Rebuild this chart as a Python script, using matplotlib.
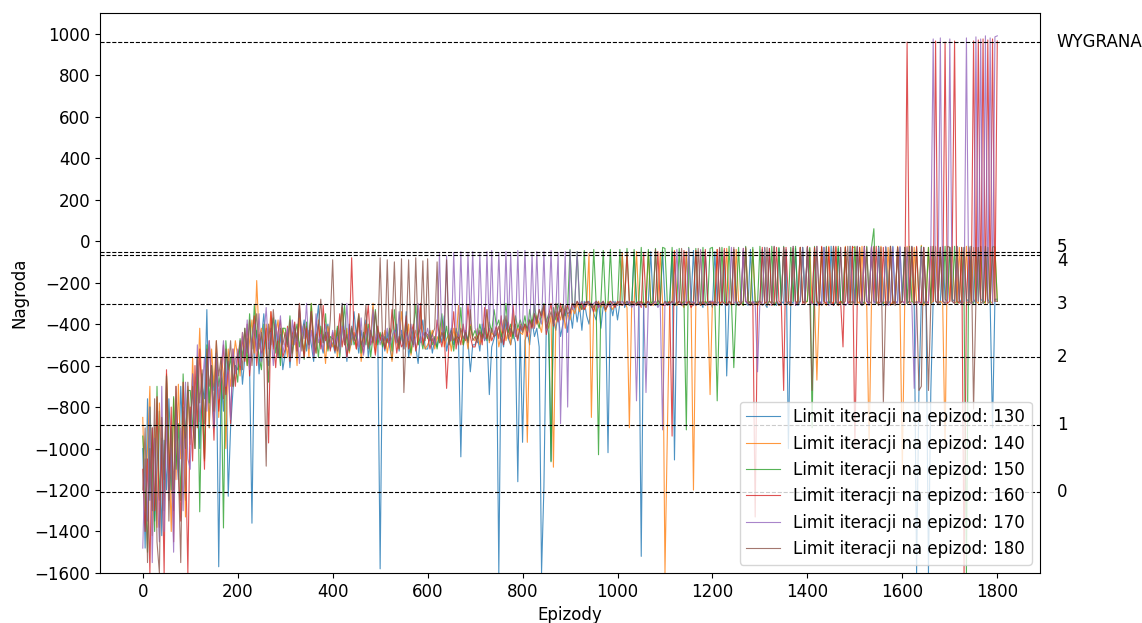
import numpy as np
import matplotlib
matplotlib.use("Agg")
import matplotlib.pyplot as plt

# reward per episode, every 5 episodes (0 .. 1800)
reward_130 = [
    -1000, -1480, -760, -1250, -900, -1350, -1100, -820, -1420, -960, -1200, -760, -1050, -1300, -880, -1150, -700, -980, -1250, -720,
    -950, -640, -830, -560, -1000, -700, -760, -330, -900, -600, -720, -560, -1570, -660, -820, -540, -1230, -900, -720, -600,
    -620, -500, -690, -560, -470, -600, -1360, -520, -430, -640, -470, -350, -540, -600, -420, -510, -380, -560, -450, -620,
    -540, -440, -610, -470, -400, -560, -330, -450, -380, -530, -430, -500, -580, -420, -310, -490, -540, -450, -400, -520,
    -490, -540, -420, -510, -300, -450, -580, -400, -500, -340, -460, -540, -430, -510, -380, -560, -470, -320, -500, -440,
    -1580, -470, -530, -440, -510, -570, -460, -400, -530, -430, -500, -340, -560, -480, -420, -510, -590, -450, -380, -520,
    -520, -450, -540, -470, -510, -440, -490, -360, -530, -470, -420, -500, -450, -470, -1040, -510, -430, -480, -630, -500,
    -500, -460, -530, -400, -480, -450, -740, -510, -470, -430, -1600, -450, -510, -380, -470, -500, -440, -490, -1160, -420,
    -970, -480, -440, -500, -380, -460, -420, -510, -1600, -1185, -400, -450, -1060, -380, -430, -350, -460, -400, -330, -440,
    -330, -420, -300, -390, -310, -430, -290, -360, -400, -300, -350, -380, -290, -420, -310, -340, -1020, -300, -360, -290,
    -380, -300, -60, -320, -290, -310, -300, -55, -310, -290, -1520, -300, -320, -290, -50, -300, -310, -285, -300, -45,
    -300, -290, -310, -50, -1055, -300, -290, -300, -310, -60, -300, -290, -45, -310, -300, -290, -320, -50, -300, -290,
    -320, -50, -290, -300, -310, -45, -650, -290, -300, -40, -310, -290, -300, -45, -290, -310, -40, -300, -290, -300,
    -290, -40, -300, -320, -35, -290, -300, -310, -35, -290, -300, -40, -1000, -290, -300, -35, -310, -290, -30, -300,
    -30, -300, -290, -35, -310, -290, -300, -30, -290, -300, -25, -310, -290, -35, -300, -290, -30, -300, -290, -25,
    -300, -30, -290, -310, -25, -290, -300, -30, -290, -300, -25, -290, -310, -30, -300, -290, -25, -300, -290, -30,
    -290, -30, -300, -290, -25, -300, -1600, -710, -290, -30, -300, -1600, -720, -280, -30, -290, -300, -25, -280, -290,
    -30, -280, -290, -25, -280, -300, -30, -280, -290, -25, -280, -300, -30, -280, -290, -25, -280, -300, -900, -280,
    -280,
]
reward_140 = [
    -850, -1300, -1000, -700, -1420, -900, -1380, -780, -1100, -1250, -640, -980, -1400, -760, -1150, -690, -1050, -820, -1330, -700,
    -980, -560, -880, -720, -420, -760, -1060, -620, -900, -520, -700, -480, -850, -560, -640, -1000, -520, -700, -600, -480,
    -560, -650, -440, -520, -600, -480, -380, -540, -190, -460, -420, -560, -400, -480, -340, -520, -450, -380, -560, -420,
    -470, -560, -390, -500, -440, -600, -370, -480, -520, -410, -560, -300, -470, -540, -380, -500, -450, -590, -410, -480,
    -510, -430, -560, -460, -320, -500, -420, -540, -480, -440, -520, -350, -580, -470, -400, -510, -460, -300, -540, -430,
    -460, -500, -430, -540, -470, -580, -440, -490, -520, -340, -460, -510, -400, -550, -470, -430, -500, -320, -480, -520,
    -500, -470, -430, -520, -460, -490, -380, -510, -470, -450, -530, -420, -490, -310, -460, -500, -440, -520, -400, -470,
    -480, -420, -500, -450, -470, -330, -490, -440, -460, -410, -510, -450, -380, -480, -430, -500, -350, -460, -420, -440,
    -450, -400, -970, -430, -380, -420, -360, -400, -440, -330, -390, -420, -360, -1090, -400, -340, -380, -310, -420, -350,
    -380, -320, -350, -300, -340, -290, -330, -310, -60, -850, -310, -340, -290, -320, -300, -340, -290, -310, -330, -300,
    -300, -310, -55, -290, -320, -900, -290, -300, -50, -310, -290, -300, -320, -50, -290, -310, -300, -290, -55, -300,
    -1600, -925, -300, -290, -45, -310, -290, -300, -320, -50, -290, -300, -1200, -310, -290, -45, -300, -290, -310, -740,
    -290, -300, -40, -310, -290, -300, -35, -290, -310, -300, -40, -290, -300, -310, -35, -290, -300, -40, -290, -310,
    -300, -290, -35, -310, -290, -300, -30, -290, -310, -300, -30, -290, -300, -310, -35, -290, -300, -30, -290, -300,
    -290, -35, -300, -290, -670, -300, -30, -290, -310, -25, -290, -300, -30, -310, -290, -300, -25, -290, -300, -30,
    -30, -290, -300, -25, -290, -310, -1000, -290, -30, -300, -290, -25, -300, -290, -30, -310, -290, -300, -25, -290,
    -1100, -290, -25, -300, -290, -30, -300, -290, -20, -310, -290, -30, -300, -290, -25, -300, -290, -300, -1000, -30,
    -290, -25, -300, -290, -30, -290, -300, -25, -290, -300, -30, -290, -300, -25, -290, -300, -30, -290, -300, -25,
    -290,
]
reward_150 = [
    -940, -1200, -1500, -800, -1100, -1400, -700, -1250, -950, -1300, -650, -1000, -1200, -750, -1100, -880, -1250, -640, -950, -720,
    -720, -880, -1000, -560, -1305, -640, -1050, -500, -780, -600, -900, -540, -700, -620, -1383, -480, -640, -560, -700, -600,
    -680, -470, -560, -420, -600, -350, -520, -310, -460, -560, -620, -400, -500, -680, -440, -370, -540, -460, -600, -420,
    -420, -500, -360, -540, -460, -400, -510, -440, -570, -390, -480, -300, -520, -450, -560, -410, -490, -350, -530, -460,
    -470, -520, -410, -560, -440, -310, -490, -530, -420, -500, -470, -360, -540, -440, -500, -400, -560, -460, -330, -500,
    -440, -510, -460, -490, -420, -530, -330, -470, -500, -450, -520, -390, -480, -540, -430, -310, -500, -460, -520, -440,
    -470, -430, -500, -460, -520, -440, -350, -480, -410, -500, -450, -530, -420, -470, -320, -500, -440, -480, -410, -460,
    -430, -470, -400, -460, -420, -480, -390, -440, -330, -410, -380, -460, -420, -300, -440, -400, -470, -360, -420, -380,
    -420, -360, -440, -330, -400, -310, -380, -420, -340, -300, -390, -350, -1064, -320, -380, -300, -340, -310, -360, -320,
    -40, -300, -310, -50, -290, -330, -45, -300, -290, -320, -40, -300, -1030, -290, -45, -310, -300, -40, -290, -300,
    -310, -40, -290, -300, -35, -290, -310, -40, -300, -290, -30, -310, -290, -40, -300, -290, -35, -310, -290, -30,
    -35, -300, -290, -30, -310, -290, -35, -300, -290, -910, -30, -290, -300, -35, -290, -310, -30, -300, -290, -35,
    -30, -290, -770, -300, -30, -290, -300, -25, -290, -610, -300, -30, -290, -310, -25, -290, -300, -30, -290, -300,
    -25, -290, -30, -300, -290, -25, -310, -290, -30, -300, -25, -290, -300, -30, -290, -25, -300, -290, -30, -290,
    -290, -30, -900, -25, -290, -300, -30, -290, -25, -300, -290, -30, -300, -25, -290, -300, -30, -290, -25, -300,
    -25, -300, -30, -290, -300, -25, -290, -30, 60, -300, -25, -290, -300, -30, -290, -25, -300, -290, -30, -300,
    -290, -30, -300, -25, -290, -300, -30, -290, -25, -300, -290, -30, -300, -25, -290, -300, -30, -290, -25, -300,
    -30, -290, -25, -300, -290, -30, -300, -1600, -25, -290, -300, -30, -290, -25, -300, -290, -30, -300, -25, -30,
    -290,
]
reward_160 = [
    -1100, -1400, -1050, -1600, -900, -1300, -750, -1380, -980, -1600, -620, -1200, -800, -1450, -700, -1100, -1350, -680, -1000, -1600,
    -800, -1060, -600, -900, -520, -780, -1100, -620, -480, -700, -960, -560, -820, -650, -500, -740, -600, -880, -520, -700,
    -540, -620, -460, -580, -400, -650, -500, -360, -600, -450, -540, -520, -420, -973, -340, -490, -610, -440, -380, -560,
    -520, -410, -580, -450, -390, -530, -300, -470, -560, -420, -500, -340, -550, -460, -400, -520, -310, -480, -440, -530,
    -440, -530, -470, -350, -510, -430, -560, -480, -80, -450, -520, -380, -490, -540, -420, -310, -500, -460, -550, -410,
    -480, -440, -520, -470, -500, -330, -430, -540, -460, -510, -490, -360, -520, -450, -400, -530, -470, -300, -500, -440,
    -450, -520, -470, -500, -380, -460, -510, -440, -710, -490, -470, -340, -520, -450, -500, -400, -480, -310, -460, -510,
    -510, -460, -440, -500, -320, -470, -420, -480, -450, -410, -470, -360, -500, -430, -390, -460, -310, -440, -480, -400,
    -430, -400, -460, -380, -420, -350, -400, -330, -370, -310, -450, -360, -300, -410, -340, -390, -300, -370, -330, -310,
    -350, -300, -320, -290, -310, -300, -330, -290, -300, -310, -340, -290, -320, -300, -290, -330, -310, -290, -300, -320,
    -290, -300, -310, -290, -60, -300, -290, -310, -300, -290, -320, -55, -300, -290, -310, -300, -290, -50, -300, -310,
    -310, -300, -290, -940, -50, -300, -290, -310, -45, -300, -290, -320, -300, -45, -290, -310, -300, -40, -290, -300,
    -290, -310, -40, -300, -290, -35, -310, -290, -300, -40, -290, -310, -300, -35, -290, -300, -310, -290, -1330, -300,
    -290, -30, -300, -290, -35, -310, -300, -30, -290, -300, -720, -30, -290, -300, -35, -310, -290, -30, -300, -290,
    -25, -290, -300, -30, -290, -310, -25, -290, -300, -30, -290, -310, -25, -300, -290, -510, -30, -300, -290, -25,
    -1000, -290, -30, -300, -25, -290, -300, -30, -290, -25, -300, -290, -30, -310, -290, -25, -300, -290, -30, -300,
    -290, -300, 960, -290, -30, -300, -25, -290, -300, -30, -290, -300, -25, -290, 965, -300, -30, -290, 960, -300,
    -290, -30, 965, -290, -300, -30, -1600, -290, -30, -290, 965, -290, 970, -280, 975, -290, 970, -280, 975, -290,
    965,
]
reward_170 = [
    -1480, -1050, -1350, -800, -1550, -950, -1200, -1450, -700, -1400, -850, -1250, -1000, -1500, -760, -1150, -900, -1300, -680, -1050,
    -1100, -640, -950, -500, -870, -720, -560, -820, -480, -650, -900, -540, -760, -620, -480, -700, -580, -860, -520, -640,
    -520, -600, -440, -560, -380, -620, -470, -400, -530, -350, -580, -460, -320, -520, -440, -600, -400, -480, -360, -540,
    -480, -420, -550, -380, -500, -440, -590, -410, -470, -300, -520, -430, -560, -350, -490, -450, -530, -400, -470, -510,
    -430, -500, -460, -540, -410, -490, -300, -520, -440, -480, -430, -510, -370, -550, -460, -420, -500, -330, -480, -440,
    -500, -450, -480, -420, -510, -460, -430, -490, -340, -470, -520, -440, -480, -400, -510, -460, -300, -490, -440, -470,
    -420, -480, -450, -500, -430, -60, -460, -410, -70, -440, -480, -55, -430, -460, -50, -420, -470, -60, -400, -50,
    -420, -450, -60, -400, -480, -50, -430, -45, -460, -410, -55, -390, -440, -50, -420, -60, -400, -460, -45, -430,
    -410, -45, -380, -440, -60, -420, -50, -370, -400, -50, -430, -360, -45, -400, -340, -55, -880, -380, -50, -800,
    -45, -330, -300, -50, -310, -290, -320, -300, -290, -310, -300, -290, -320, -300, -290, -310, -300, -320, -290, -300,
    -310, -300, -290, -310, -300, -290, -320, -300, -770, -290, -310, -300, -730, -290, -310, -300, -290, -320, -300, -910,
    -290, -300, -310, -290, -300, -40, -290, -310, -300, -290, -35, -300, -290, -310, -300, -40, -290, -300, -310, -290,
    -290, -300, -310, -35, -290, -300, -310, -290, -30, -300, -290, -310, -300, -35, -290, -300, -310, -290, -300, -630,
    -290, -300, -30, -290, -310, -300, -25, -290, -300, -310, -30, -290, -300, -290, -25, -310, -300, -290, -30, -300,
    -30, -290, -300, -310, -25, -290, -300, -30, -290, -310, -300, -25, -290, -300, -30, -290, -310, -300, -25, -290,
    -300, -25, -290, -300, -30, -290, -310, -25, -300, -290, -30, -300, -290, -25, -310, -300, -30, -290, -300, -25,
    -290, -300, -30, -290, -300, -710, -290, -300, -30, -290, -300, -290, -30, 975, -290, -300, 980, -290, -300, -290,
    975, -290, -300, -30, -290, -300, -290, 980, -290, -300, -290, 985, -290, 975, -300, 990, -290, 980, -300, 985,
    990,
]
reward_180 = [
    -1200, -900, -1550, -1000, -1300, -760, -1450, -1600, -850, -1150, -650, -1350, -900, -1200, -700, -1100, -1550, -800, -1000, -680,
    -900, -700, -1000, -560, -780, -620, -880, -520, -700, -600, -820, -480, -650, -560, -760, -520, -620, -480, -700, -560,
    -560, -480, -620, -420, -540, -380, -600, -460, -350, -520, -440, -560, -1085, -400, -500, -330, -480, -560, -420, -500,
    -440, -510, -380, -560, -420, -480, -300, -530, -400, -460, -500, -340, -470, -540, -410, -280, -490, -440, -520, -380,
    -90, -470, -530, -430, -300, -500, -450, -520, -410, -480, -440, -350, -500, -460, -310, -520, -430, -490, -340, -470,
    -80, -470, -510, -90, -480, -420, -100, -460, -520, -85, -730, -440, -90, -470, -500, -80, -450, -420, -95, -480,
    -85, -480, -450, -420, -100, -490, -440, -470, -90, -500, -430, -480, -460, -500, -420, -470, -440, -490, -330, -480,
    -460, -490, -430, -470, -440, -330, -480, -420, -460, -450, -410, -490, -440, -360, -470, -420, -450, -400, -470, -410,
    -440, -400, -420, -380, -410, -350, -390, -330, -360, -310, -420, -380, -340, -400, -300, -360, -330, -380, -310, -350,
    -340, -300, -320, -290, -310, -330, -300, -290, -310, -300, -320, -290, -300, -310, -290, -330, -300, -290, -310, -300,
    -300, -290, -310, -300, -290, -310, -300, -290, -310, -300, -290, -310, -300, -290, -310, -300, -40, -290, -300, -310,
    -290, -310, -300, -290, -310, -300, -290, -35, -300, -310, -290, -300, -310, -290, -35, -300, -290, -310, -300, -290,
    -310, -290, -300, -30, -290, -300, -310, -290, -300, -30, -290, -310, -300, -290, -30, -300, -290, -310, -300, -290,
    -290, -310, -300, -30, -290, -300, -25, -290, -310, -300, -30, -290, -300, -310, -25, -290, -300, -30, -290, -300,
    -30, -290, -720, -300, -25, -290, -310, -300, -30, -290, -300, -25, -290, -310, -30, -300, -290, -25, -300, -290,
    -300, -25, -290, -310, -300, -30, -290, -300, -25, -290, -310, -30, -780, -290, -300, -25, -290, -310, -30, -300,
    -290, -30, -300, -290, -25, -300, -290, -720, -700, -30, -290, -720, -300, -25, -290, -300, -30, -290, -300, -25,
    -30, -290, -300, -25, -290, -300, -30, -290, -300, -25, -810, -290, -30, -300, -290, -25, -300, -290, -30, -290,
    -290,
]

limits = [130, 140, 150, 160, 170, 180]
series = [reward_130, reward_140, reward_150, reward_160, reward_170, reward_180]

# reward thresholds drawn as dashed lines
level_names = ["WYGRANA", "5", "4", "3", "2", "1", "0"]
level_values = [960, -50, -65, -302, -557, -885, -1210]

plt.rcParams['font.size'] = 12
fig = plt.figure(figsize=(11.42, 6.23), dpi=100)
ax = fig.add_axes([0.0876, 0.0803, 0.8231, 0.8988])

for limit, rewards in zip(limits, series):
    episodes = np.arange(len(rewards)) * 5
    ax.plot(episodes, rewards, linewidth=0.8, alpha=0.8,
            label='Limit iteracji na epizod: {}'.format(limit))

for name, value in zip(level_names, level_values):
    ax.axhline(value, color='black', linestyle='--', linewidth=0.8)
    # keep the 5 / 4 labels apart, their lines nearly touch
    offset = {"5": 24, "4": -33}.get(name, 0)
    ax.text(1.018, value + offset, name, transform=ax.get_yaxis_transform(),
            ha='left', va='center')

ax.set_ylim(-1600, 1100)
ax.set_yticks(range(-1600, 1001, 200))
ax.set_xticks(range(0, 1801, 200))
ax.set_xlabel('Epizody')
ax.set_ylabel('Nagroda')
ax.legend(loc='lower right')

fig.savefig('out.png')
